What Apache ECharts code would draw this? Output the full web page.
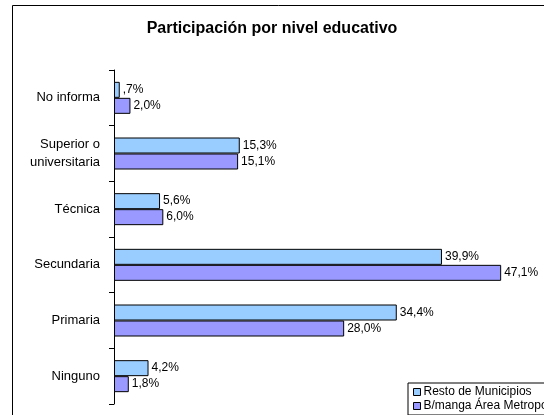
<!DOCTYPE html>
<html><head><meta charset="utf-8">
<script src="https://cdn.jsdelivr.net/npm/echarts@6/dist/echarts.min.js"></script>
<style>html,body{margin:0;padding:0;background:#fff}#c{width:544px;height:415px}</style>
</head><body><div id="c"></div>
<script>
const categories = ['Ninguno', 'Primaria', 'Secundaria', 'Técnica', 'Superior o\nuniversitaria', 'No informa'];
const seriesNames = ['Resto de Municipios', 'B/manga Área Metropolitana'];
const resto = [4.2, 34.4, 39.9, 5.6, 15.3, 0.7];
const bmanga = [1.8, 28.0, 47.1, 6.0, 15.1, 2.0];

function fmt(v) {
  let s = v.toFixed(1).replace('.', ',');
  if (v < 1) s = s.replace(/^0/, '');
  return s + '%';
}
const FONT = 'Liberation Sans, Arial, sans-serif';
const chart = echarts.init(document.getElementById('c'), null, {renderer: 'canvas'});
chart.setOption({
  animation: false,
  backgroundColor: '#fff',
  title: {
    text: 'Participación por nivel educativo',
    left: 'center', top: 16,
    textStyle: {fontFamily: FONT, fontSize: 16, fontWeight: 'bold', color: '#000'}
  },
  graphic: [{
    type: 'rect', left: 10, top: 3, silent: true, z: -1,
    shape: {width: 600, height: 500},
    style: {fill: 'none', stroke: '#000', lineWidth: 1}
  }],
  legend: {
    orient: 'vertical', left: 408, top: 383, width: 200, height: 60,
    backgroundColor: '#fff', borderColor: '#000', borderWidth: 1,
    padding: [3, 5], itemGap: 2, itemWidth: 7, itemHeight: 7,
    icon: 'rect',
    textStyle: {fontFamily: FONT, fontSize: 12, color: '#000', padding: [0, 0, 0, -2]},
    itemStyle: {borderColor: '#000', borderWidth: 1},
    data: seriesNames
  },
  grid: {left: 114, top: 70, width: 411, height: 334, containLabel: false},
  xAxis: {type: 'value', min: 0, max: 50, show: false},
  yAxis: {
    type: 'category', data: categories,
    axisLine: {lineStyle: {color: '#000', width: 1}},
    axisTick: {show: true, length: 5, lineStyle: {color: '#000'}},
    axisLabel: {fontFamily: FONT, fontSize: 13, color: '#000', margin: 14, lineHeight: 18, align: 'right'}
  },
  series: [
    {name: seriesNames[0], type: 'bar', data: resto, barWidth: 16, barGap: '0%',
     itemStyle: {color: '#99CCFF', borderColor: '#000', borderWidth: 1},
     label: {show: true, position: 'right', distance: 3, formatter: p => fmt(p.value), fontFamily: FONT, fontSize: 12, color: '#000'}},
    {name: seriesNames[1], type: 'bar', data: bmanga, barWidth: 16, barGap: '0%',
     itemStyle: {color: '#9999FF', borderColor: '#000', borderWidth: 1},
     label: {show: true, position: 'right', distance: 3, formatter: p => fmt(p.value), fontFamily: FONT, fontSize: 12, color: '#000'}}
  ]
});
</script></body></html>
